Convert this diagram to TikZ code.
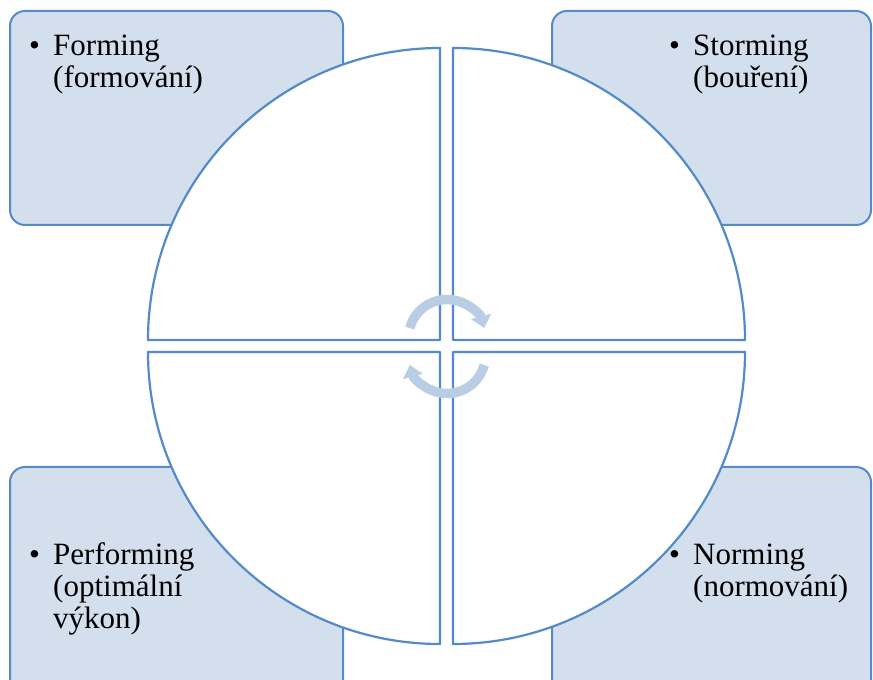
\documentclass[tikz,border=0pt]{standalone}
\usepackage{fontspec}
\setmainfont{Liberation Serif}
\usetikzlibrary{arrows.meta}

\definecolor{frameblue}{RGB}{84,138,200}
\definecolor{boxfill}{RGB}{212,223,238}
\definecolor{cyclearrow}{RGB}{185,205,229}

\newcommand{\stagelabel}[2]{\begin{tabular}[t]{@{}p{24pt}@{}l@{}}\textbullet & #1\\ & #2\end{tabular}}

\begin{document}
\begin{tikzpicture}[x=1pt, y=1pt,
    stagebox/.style={draw=frameblue, fill=boxfill, line width=2pt, rounded corners=15pt},
    quarter/.style={draw=frameblue, fill=white, line width=2.2pt, line join=round},
    stagetext/.style={anchor=base west, inner sep=0pt, font=\fontsize{31}{32}\selectfont},
    turn/.style={cyclearrow, line width=9.5pt, -{Triangle[width=20pt,length=12pt]}}]
    \useasboundingbox (0,0) rectangle (873,680);
    \clip (0,0) rectangle (873,680);

    % Corner boxes (bottom ones run off the page)
    \draw[stagebox] (10,669) rectangle (343,455);   % forming
    \draw[stagebox] (552,669) rectangle (871,455);  % storming
    \draw[stagebox] (10,213) rectangle (343,-20);   % performing
    \draw[stagebox] (552,213) rectangle (871,-20);  % norming

    % Stage labels
    \node[stagetext] (forming)    at (29,624)  {\stagelabel{Forming}{(formování)}};
    \node[stagetext] (storming)   at (669,624) {\stagelabel{Storming}{(bouření)}};
    \node[stagetext] (performing) at (29,115)  {\stagelabel{Performing}{(optimální\\ & výkon)}};
    \node[stagetext] (norming)    at (669,115) {\stagelabel{Norming}{(normování)}};

    % Four quarters of the circle
    \draw[quarter] (440,340) -- (148,340) arc (180:90:292) -- cycle;
    \draw[quarter] (453,340) -- (453,632) arc (90:0:292) -- cycle;
    \draw[quarter] (440,328) -- (440,36) arc (270:180:292) -- cycle;
    \draw[quarter] (453,328) -- (745,328) arc (0:-90:292) -- cycle;

    % Cycle arrows in the middle
    \draw[turn] (447,342) ++(165:38.5) arc (165:15:38.5);
    \draw[turn] (447,325) ++(-15:38.5) arc (-15:-165:38.5);
\end{tikzpicture}
\end{document}
